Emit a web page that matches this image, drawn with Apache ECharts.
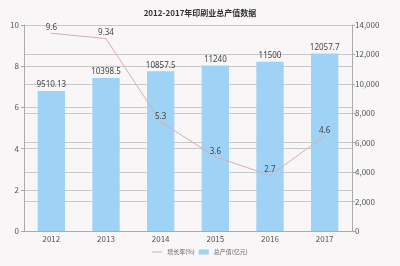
<!DOCTYPE html>
<html><head><meta charset="utf-8">
<script src="https://cdn.jsdelivr.net/npm/echarts@6/dist/echarts.min.js"></script>
<style>html,body{margin:0;padding:0;background:#f8f6f7}#c{width:400px;height:266px}</style>
</head><body><div id="c"></div>
<script>
var categories = ['2012','2013','2014','2015','2016','2017'];
var growthRate = [9.6, 9.34, 5.3, 3.6, 2.7, 4.6];
var totalOutput = [9510.13, 10398.5, 10857.5, 11240, 11500, 12057.7];
var seriesNames = ['增长率(%)', '总产值(亿元)'];
var chartTitle = '2012-2017年印刷业总产值数据';

var chart = echarts.init(document.getElementById('c'));
var axisTxt = {color:'#555', fontSize:8, fontFamily:'Noto Sans CJK SC'};
chart.setOption({
  backgroundColor:'#f8f6f7',
  animation:false,
  title:{text:chartTitle, left:'center', top:4, textStyle:{fontSize:8, fontWeight:'bold', color:'#333', fontFamily:'Noto Sans CJK SC'}},
  legend:{bottom:6, left:'center', itemWidth:10, itemHeight:5, itemGap:4,
    textStyle:{fontSize:6, color:'#666', fontFamily:'Noto Sans CJK SC'},
    data:[{name:seriesNames[0], icon:'path://M0,0 L10,0 L10,1 L0,1 Z'},{name:seriesNames[1], icon:'rect'}]},
  grid:{left:24, right:48, top:25, bottom:35},
  xAxis:{type:'category', data:categories,
    axisLine:{lineStyle:{color:'#aaa'}}, axisTick:{show:false},
    axisLabel:Object.assign({margin:4}, axisTxt)},
  yAxis:[
    {type:'value', min:0, max:10, interval:2, position:'left',
      axisLine:{show:true, lineStyle:{color:'#aaa'}}, axisTick:{show:true, length:3, lineStyle:{color:'#aaa'}},
      axisLabel:Object.assign({margin:5}, axisTxt),
      splitLine:{lineStyle:{color:'#c8c8c8', width:1}}},
    {type:'value', min:0, max:14000, interval:2000, position:'right',
      axisLine:{show:true, lineStyle:{color:'#aaa'}}, axisTick:{show:true, length:3, lineStyle:{color:'#aaa'}},
      axisLabel:Object.assign({margin:3, formatter:function(v){return v.toLocaleString('en-US');}}, axisTxt),
      splitLine:{show:true, lineStyle:{color:'#c8c8c8', width:1}}}
  ],
  series:[
    {name:seriesNames[1], type:'bar', yAxisIndex:1, data:totalOutput, barWidth:'50%', z:1,
      itemStyle:{color:'#9fd3f6'},
      label:{show:true, position:'top', distance:2, color:'#444', fontSize:8, fontFamily:'Noto Sans'}},
    {name:seriesNames[0], type:'line', yAxisIndex:0, data:growthRate, z:3,
      symbol:'circle', symbolSize:1, showSymbol:true, lineStyle:{color:'#d9aeb3', width:1}, itemStyle:{color:'#d9aeb3'},
      label:{show:true, position:'top', distance:1, color:'#444', fontSize:8, fontFamily:'Noto Sans'}}
  ]
});
</script></body></html>
